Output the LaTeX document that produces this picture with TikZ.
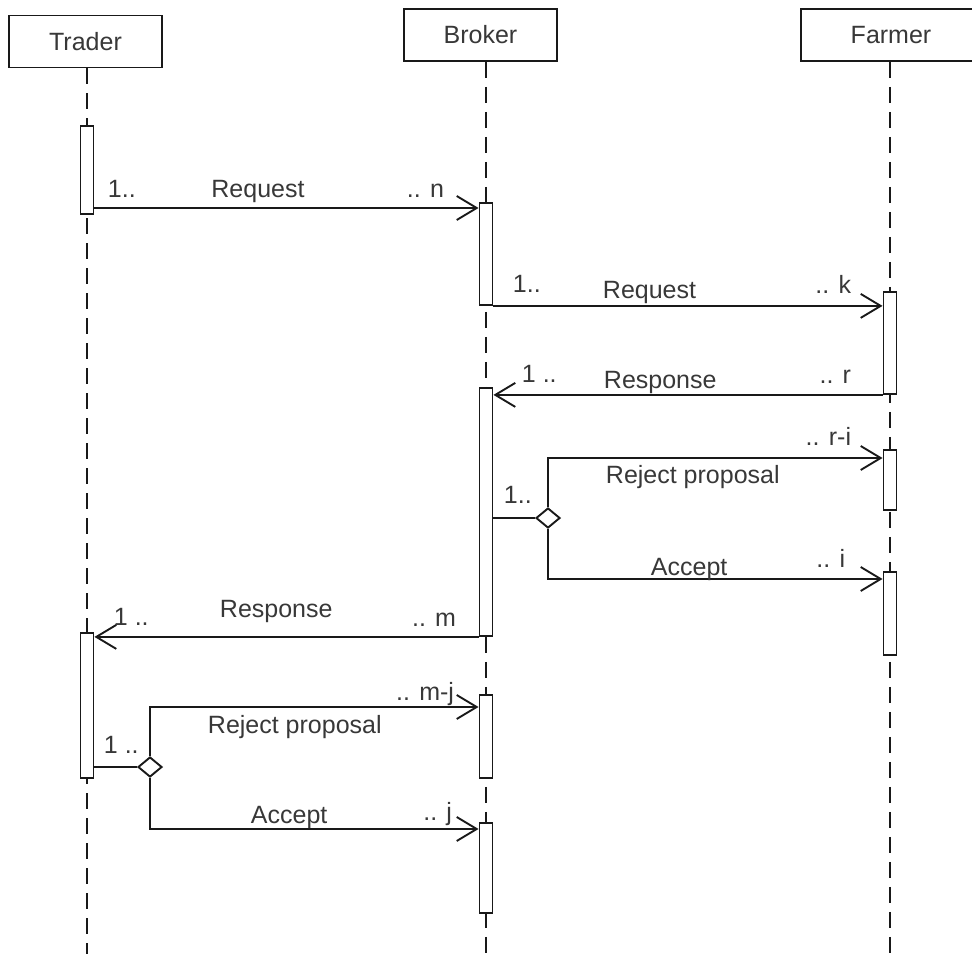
\documentclass[tikz,border=0pt]{standalone}
\usepackage{fontspec}
\setmainfont{Liberation Sans}
\usetikzlibrary{arrows.meta,shapes.geometric}
\begin{document}
\begin{tikzpicture}[x=1pt,y=-1pt,
  line width=1.9pt,
  ink/.style={draw=black!90},
  head/.style={ink, fill=white, minimum width=153pt, minimum height=52pt,
    inner sep=0pt, font=\fontsize{25}{30}\selectfont, text=black!78},
  life/.style={ink, dash pattern=on 16pt off 9pt},
  bar/.style={ink, fill=white, minimum width=13pt, inner sep=0pt, anchor=north},
  msg/.style={ink, -{Straight Barb[length=20pt,width=24pt]}},
  lbl/.style={font=\fontsize{25}{30}\selectfont, text=black!78, inner sep=0pt},
  choice/.style={ink, fill=white, diamond, minimum width=24pt,
    minimum height=20pt, inner sep=0pt}]
\useasboundingbox (0,0) rectangle (972,954);

% participants
\node[head] (trader) at (85.5,41.5) {Trader};
\node[head] (broker) at (480.5,35) {Broker};
\node[head, minimum width=180pt] (farmer) at (891,35) {Farmer};

% lifelines
\coordinate (tend) at (87,954);
\coordinate (bend) at (486,954);
\coordinate (fend) at (890,954);
\draw[life] (trader.south -| tend) -- (tend);
\draw[life] (broker.south -| bend) -- (bend);
\draw[life] (farmer.south -| fend) -- (fend);

% activation bars
\node[bar, minimum height=88pt]  (ta1) at (87,125) {};
\node[bar, minimum height=145pt] (ta2) at (87,632) {};
\node[bar, minimum height=102pt] (bb1) at (486,202) {};
\node[bar, minimum height=248pt] (bb2) at (486,387) {};
\node[bar, minimum height=83pt]  (bb3) at (486,694) {};
\node[bar, minimum height=90pt]  (bb4) at (486,822) {};
\node[bar, minimum height=102pt] (fa1) at (890,291) {};
\node[bar, minimum height=60pt]  (fa2) at (890,449) {};
\node[bar, minimum height=83pt]  (fa3) at (890,571) {};

% message rows
\coordinate (r1) at (0,208);
\coordinate (r4) at (0,458);
\coordinate (r5) at (0,579);
\coordinate (r7) at (0,707);
\coordinate (r8) at (0,829);

% Trader -> Broker: Request
\draw[msg] (ta1.east |- r1) -- (bb1.west |- r1);
\node[lbl, anchor=base west] (l1a) at (107,197) {1..};
\node[lbl, anchor=base] (l1b) at (258,197) {Request};
\node[lbl, anchor=base east] (l1c) at (445,197) {.. n};

% Broker -> Farmer: Request
\draw[msg] (bb1.south east) -- (fa1.west |- bb1.south);
\node[lbl, anchor=base west] (l2a) at (512,292) {1..};
\node[lbl, anchor=base west] (l2b) at (602,298) {Request};
\node[lbl, anchor=base east] (l2c) at (852,293) {.. k};

% Farmer -> Broker: Response
\draw[msg] (fa1.south west) -- (bb2.east |- fa1.south);
\node[lbl, anchor=base west] (l3a) at (521,382) {1 ..};
\node[lbl, anchor=base west] (l3b) at (603,388) {Response};
\node[lbl, anchor=base east] (l3c) at (852,383) {.. r};

% Broker decision towards Farmer
\node[choice] (d1) at (548,518) {};
\draw[ink] (bb2.east |- d1) -- (d1.west);
\draw[msg] (d1.north) |- (fa2.west |- r4);
\draw[msg] (d1.south) |- (fa3.west |- r5);
\node[lbl, anchor=base west] (l4a) at (503,503) {1..};
\node[lbl, anchor=base west] (l4b) at (605,483) {Reject proposal};
\node[lbl, anchor=base east] (l4c) at (852,445) {.. r-i};
\node[lbl, anchor=base west] (l5b) at (650,575) {Accept};
\node[lbl, anchor=base east] (l5c) at (846,567) {.. i};

% Broker -> Trader: Response
\draw[msg] (bb2.south west) -- (ta2.east |- bb2.south);
\node[lbl, anchor=base west] (l6a) at (113,625) {1 ..};
\node[lbl, anchor=base west] (l6b) at (219,617) {Response};
\node[lbl, anchor=base east] (l6c) at (457,626) {.. m};

% Trader decision towards Broker
\node[choice] (d2) at (150,767) {};
\draw[ink] (ta2.east |- d2) -- (d2.west);
\draw[msg] (d2.north) |- (bb3.west |- r7);
\draw[msg] (d2.south) |- (bb4.west |- r8);
\node[lbl, anchor=base west] (l7a) at (103,753) {1 ..};
\node[lbl, anchor=base west] (l7b) at (207,733) {Reject proposal};
\node[lbl, anchor=base east] (l7c) at (455,700) {.. m-j};
\node[lbl, anchor=base west] (l8b) at (250,823) {Accept};
\node[lbl, anchor=base east] (l8c) at (453,820) {.. j};
\end{tikzpicture}
\end{document}
